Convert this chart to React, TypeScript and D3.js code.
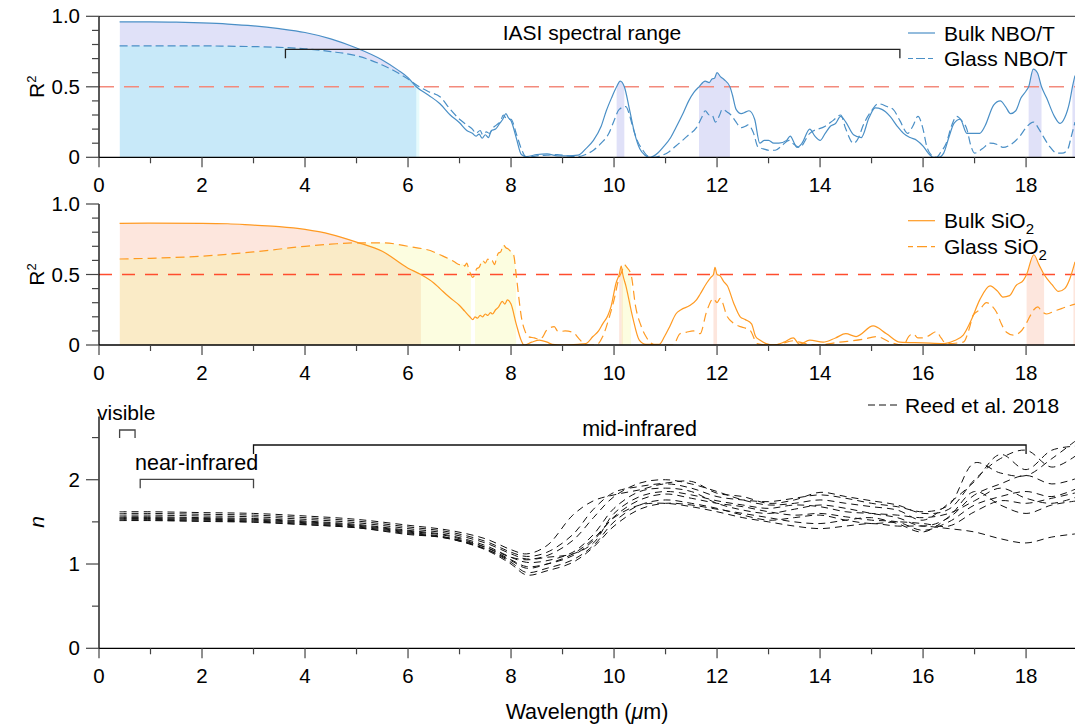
import React from 'react';
import * as d3 from 'd3';

type Pt = [number, number];

// ---------- Top panel: NBO/T R^2 ----------
const nboBulk: Pt[] = [[0.4,0.96],[1,0.96],[1.5,0.958],[2,0.953],[2.5,0.945],[3,0.932],[3.5,0.912],[4,0.885],[4.5,0.84],[5,0.775],[5.5,0.69],[5.8,0.62],[6,0.565],[6.16,0.5],[6.4,0.44],[6.62,0.38],[6.82,0.30],[7.0,0.245],[7.14,0.19],[7.25,0.17],[7.32,0.15],[7.38,0.165],[7.44,0.135],[7.5,0.16],[7.56,0.14],[7.62,0.19],[7.7,0.2],[7.78,0.24],[7.84,0.27],[7.9,0.31],[7.95,0.28],[8.0,0.26],[8.1,0.14],[8.2,0.02],[8.3,0.005],[8.5,0.02],[8.7,0.025],[8.9,0.01],[9.1,0.01],[9.3,0.015],[9.45,0.06],[9.6,0.12],[9.75,0.22],[9.85,0.33],[9.95,0.42],[10.05,0.5],[10.12,0.54],[10.2,0.5],[10.3,0.34],[10.4,0.17],[10.5,0.06],[10.6,0.015],[10.7,0.0],[10.85,0.03],[10.95,0.07],[11.1,0.14],[11.2,0.21],[11.35,0.32],[11.45,0.4],[11.55,0.46],[11.65,0.5],[11.77,0.54],[11.85,0.53],[11.9,0.555],[11.95,0.56],[12.0,0.6],[12.07,0.57],[12.14,0.55],[12.25,0.5],[12.3,0.44],[12.37,0.34],[12.47,0.31],[12.55,0.32],[12.62,0.33],[12.73,0.27],[12.83,0.1],[12.92,0.12],[13.0,0.12],[13.1,0.1],[13.2,0.1],[13.35,0.12],[13.42,0.15],[13.5,0.1],[13.55,0.07],[13.65,0.1],[13.8,0.2],[13.9,0.15],[14.0,0.12],[14.1,0.17],[14.2,0.22],[14.3,0.24],[14.4,0.29],[14.5,0.25],[14.65,0.16],[14.8,0.14],[14.95,0.28],[15.07,0.35],[15.2,0.34],[15.36,0.29],[15.5,0.22],[15.62,0.17],[15.75,0.14],[15.88,0.12],[16.0,0.08],[16.1,0.03],[16.2,0.0],[16.3,0.0],[16.4,0.03],[16.5,0.14],[16.6,0.24],[16.72,0.27],[16.85,0.17],[16.95,0.17],[17.1,0.17],[17.2,0.22],[17.37,0.37],[17.5,0.4],[17.6,0.36],[17.7,0.31],[17.8,0.33],[17.9,0.42],[18.0,0.47],[18.05,0.5],[18.14,0.625],[18.22,0.6],[18.3,0.5],[18.4,0.42],[18.55,0.29],[18.66,0.24],[18.75,0.28],[18.85,0.4],[18.9,0.5],[18.95,0.58]];

const nboGlass: Pt[] = [[0.4,0.79],[1,0.79],[1.5,0.79],[2,0.79],[2.5,0.788],[3,0.785],[3.5,0.78],[4,0.77],[4.5,0.75],[5,0.72],[5.5,0.655],[5.8,0.6],[6,0.555],[6.22,0.5],[6.4,0.465],[6.62,0.43],[6.82,0.34],[7.0,0.27],[7.14,0.23],[7.25,0.2],[7.32,0.17],[7.4,0.19],[7.45,0.16],[7.52,0.18],[7.58,0.17],[7.65,0.21],[7.72,0.23],[7.8,0.26],[7.85,0.3],[7.92,0.27],[8.0,0.27],[8.1,0.17],[8.2,0.06],[8.3,0.0],[8.5,0.01],[8.7,0.015],[8.9,0.02],[9.1,0.01],[9.3,0.005],[9.45,0.02],[9.6,0.05],[9.75,0.1],[9.9,0.17],[10.0,0.26],[10.1,0.34],[10.23,0.36],[10.3,0.3],[10.36,0.22],[10.45,0.12],[10.56,0.05],[10.65,0.01],[10.75,0.0],[10.9,0.01],[11.07,0.04],[11.2,0.08],[11.33,0.12],[11.45,0.16],[11.6,0.21],[11.7,0.28],[11.77,0.33],[11.85,0.3],[11.9,0.3],[11.97,0.25],[12.05,0.3],[12.1,0.34],[12.2,0.32],[12.27,0.3],[12.35,0.26],[12.47,0.21],[12.55,0.22],[12.6,0.23],[12.7,0.18],[12.8,0.07],[12.9,0.06],[13.0,0.05],[13.13,0.05],[13.25,0.08],[13.4,0.12],[13.5,0.09],[13.6,0.07],[13.8,0.17],[14.1,0.22],[14.25,0.26],[14.4,0.3],[14.5,0.2],[14.65,0.1],[14.75,0.14],[14.83,0.22],[15.0,0.33],[15.13,0.38],[15.3,0.36],[15.42,0.34],[15.55,0.26],[15.7,0.17],[15.8,0.22],[15.9,0.29],[16.0,0.2],[16.07,0.08],[16.18,0.01],[16.26,0.0],[16.35,0.04],[16.45,0.1],[16.55,0.22],[16.65,0.29],[16.75,0.26],[16.85,0.2],[16.93,0.08],[17.0,0.03],[17.15,0.06],[17.3,0.1],[17.45,0.09],[17.55,0.07],[17.7,0.09],[17.88,0.15],[18.0,0.21],[18.14,0.25],[18.25,0.2],[18.33,0.15],[18.45,0.08],[18.6,0.03],[18.7,0.03],[18.8,0.05],[18.88,0.15],[18.95,0.25]];

const nboBulkBands: Pt[] = [[0.4,6.16],[10.05,10.2],[11.65,12.25],[18.05,18.3],[18.9,18.95]];
const nboGlassBands: Pt[] = [[0.4,6.22]];

// ---------- Middle panel: SiO2 R^2 ----------
const sioBulk: Pt[] = [[0.4,0.863],[1,0.864],[2,0.863],[2.5,0.86],[3,0.85],[3.5,0.84],[4,0.82],[4.5,0.785],[5,0.73],[5.5,0.665],[6,0.545],[6.25,0.5],[6.5,0.44],[6.62,0.40],[6.8,0.34],[7.0,0.28],[7.1,0.24],[7.2,0.2],[7.26,0.18],[7.3,0.2],[7.35,0.19],[7.4,0.21],[7.45,0.2],[7.5,0.22],[7.55,0.21],[7.6,0.23],[7.64,0.22],[7.7,0.25],[7.76,0.27],[7.83,0.31],[7.88,0.29],[7.93,0.32],[8.0,0.29],[8.1,0.15],[8.2,0.03],[8.25,0.0],[8.4,0.02],[8.55,0.035],[8.7,0.02],[8.8,0.005],[9.0,0.0],[9.3,0.005],[9.45,0.01],[9.59,0.06],[9.7,0.1],[9.78,0.15],[9.88,0.21],[9.94,0.27],[10.04,0.44],[10.1,0.5],[10.14,0.56],[10.17,0.5],[10.23,0.42],[10.36,0.2],[10.49,0.035],[10.62,0.005],[10.88,0.005],[10.98,0.06],[11.08,0.13],[11.2,0.22],[11.3,0.25],[11.47,0.28],[11.6,0.32],[11.67,0.36],[11.8,0.44],[11.88,0.48],[11.93,0.5],[11.96,0.55],[12.0,0.5],[12.06,0.49],[12.13,0.45],[12.2,0.42],[12.32,0.3],[12.45,0.2],[12.55,0.18],[12.67,0.15],[12.75,0.06],[12.83,0.035],[12.95,0.01],[13.1,0.0],[13.3,0.02],[13.48,0.05],[13.6,0.005],[13.8,0.035],[14.06,0.02],[14.3,0.05],[14.5,0.08],[14.7,0.06],[15.03,0.135],[15.29,0.08],[15.55,0.02],[16.0,0.015],[16.4,0.01],[16.6,0.03],[16.78,0.07],[16.94,0.18],[17.1,0.32],[17.3,0.42],[17.45,0.38],[17.55,0.34],[17.68,0.35],[17.8,0.42],[17.95,0.46],[18.01,0.5],[18.15,0.64],[18.25,0.57],[18.35,0.5],[18.5,0.43],[18.63,0.38],[18.75,0.4],[18.85,0.47],[18.92,0.55],[18.95,0.59]];

const sioGlass: Pt[] = [[0.4,0.61],[1,0.615],[2,0.63],[3,0.66],[4,0.70],[4.5,0.715],[5,0.725],[5.5,0.725],[6,0.70],[6.5,0.66],[6.62,0.64],[6.8,0.61],[6.9,0.59],[7.0,0.57],[7.06,0.58],[7.1,0.56],[7.14,0.58],[7.18,0.54],[7.22,0.5],[7.25,0.48],[7.3,0.5],[7.33,0.54],[7.38,0.55],[7.45,0.6],[7.5,0.58],[7.55,0.61],[7.59,0.59],[7.63,0.6],[7.68,0.57],[7.72,0.62],[7.75,0.65],[7.8,0.66],[7.85,0.71],[7.9,0.69],[7.95,0.68],[8.0,0.66],[8.05,0.64],[8.1,0.5],[8.15,0.34],[8.2,0.2],[8.27,0.1],[8.33,0.06],[8.45,0.05],[8.55,0.04],[8.62,0.06],[8.68,0.1],[8.75,0.12],[8.84,0.13],[8.9,0.1],[8.94,0.095],[9.05,0.1],[9.2,0.09],[9.33,0.04],[9.46,0.0],[9.65,0.0],[9.78,0.06],[9.91,0.2],[10.0,0.32],[10.1,0.48],[10.15,0.52],[10.2,0.57],[10.25,0.55],[10.33,0.5],[10.42,0.27],[10.52,0.14],[10.62,0.06],[10.8,0.0],[11.15,0.0],[11.28,0.08],[11.4,0.09],[11.54,0.1],[11.67,0.08],[11.8,0.24],[11.93,0.33],[12.0,0.3],[12.06,0.33],[12.2,0.2],[12.3,0.16],[12.45,0.13],[12.55,0.12],[12.65,0.1],[12.78,0.01],[13.0,0.0],[13.2,0.005],[13.48,0.03],[13.6,0.02],[13.93,0.0],[14.38,0.02],[14.83,0.04],[15.1,0.06],[15.36,0.02],[15.62,0.0],[15.72,0.06],[15.81,0.08],[15.9,0.05],[16.0,0.05],[16.13,0.07],[16.26,0.095],[16.35,0.05],[16.45,0.01],[16.78,0.02],[16.9,0.12],[16.97,0.21],[17.1,0.25],[17.23,0.3],[17.33,0.28],[17.43,0.23],[17.52,0.15],[17.62,0.09],[17.75,0.07],[17.88,0.09],[18.0,0.15],[18.07,0.2],[18.15,0.25],[18.23,0.27],[18.3,0.24],[18.4,0.22],[18.55,0.24],[18.7,0.26],[18.86,0.28],[18.95,0.29]];

const sioBulkBands: Pt[] = [[0.4,6.25],[10.1,10.17],[11.93,12.0],[18.01,18.35],[18.92,18.95]];
const sioGlassBands: Pt[] = [[0.4,7.22],[7.3,8.1],[10.15,10.33]];

// ---------- Bottom panel: refractive index n (Reed et al. 2018) ----------
const reedWavelength = [0.4,1,2,3,4,5,6,6.8,7.5,8,8.3,8.7,9.2,9.6,10,10.5,11,11.5,12,12.5,13,13.5,14,14.5,15,15.5,16,16.5,17,17.5,18,18.5,19];
const reedN: number[][] = [
  [1.62,1.62,1.61,1.60,1.57,1.53,1.46,1.40,1.30,1.17,1.12,1.22,1.58,1.75,1.82,1.88,1.95,1.9,1.8,1.76,1.74,1.78,1.82,1.78,1.72,1.68,1.62,1.7,2.2,2.08,2.05,2.25,2.48],
  [1.58,1.58,1.57,1.56,1.53,1.49,1.42,1.36,1.25,1.12,1.06,1.1,1.28,1.55,1.8,1.96,2.0,1.95,1.86,1.76,1.7,1.72,1.76,1.72,1.68,1.64,1.52,1.72,1.98,2.3,2.12,2.35,2.4],
  [1.56,1.56,1.55,1.54,1.51,1.47,1.40,1.34,1.22,1.08,1.02,1.04,1.14,1.35,1.66,1.86,1.9,1.86,1.72,1.64,1.6,1.65,1.7,1.66,1.6,1.55,1.45,1.55,1.82,1.95,2.05,1.95,2.02],
  [1.55,1.55,1.54,1.53,1.50,1.46,1.39,1.33,1.2,1.05,0.97,1.0,1.1,1.28,1.56,1.76,1.83,1.78,1.72,1.68,1.62,1.58,1.6,1.56,1.52,1.5,1.4,1.5,1.7,1.8,1.86,1.8,1.9],
  [1.54,1.54,1.53,1.52,1.49,1.45,1.38,1.31,1.18,1.02,0.9,0.95,1.05,1.22,1.5,1.7,1.76,1.72,1.66,1.58,1.52,1.55,1.58,1.52,1.48,1.5,1.48,1.45,1.62,1.75,1.72,1.78,1.85],
  [1.53,1.53,1.52,1.51,1.48,1.44,1.37,1.30,1.17,1.0,0.87,0.92,1.02,1.2,1.45,1.65,1.72,1.7,1.65,1.6,1.55,1.5,1.48,1.52,1.55,1.48,1.38,1.56,1.86,1.7,1.6,1.7,1.75],
  [1.52,1.52,1.51,1.50,1.47,1.43,1.36,1.30,1.18,1.04,0.95,1.0,1.12,1.3,1.55,1.7,1.72,1.68,1.62,1.55,1.5,1.45,1.42,1.45,1.48,1.45,1.45,1.42,1.38,1.3,1.25,1.32,1.36],
  [1.515,1.515,1.505,1.495,1.465,1.43,1.35,1.31,1.2,1.08,1.05,1.08,1.12,1.25,1.6,1.8,1.86,1.82,1.75,1.7,1.66,1.7,1.68,1.62,1.6,1.58,1.55,1.6,1.75,1.9,1.78,1.72,1.8],
  [1.6,1.6,1.59,1.58,1.55,1.51,1.44,1.38,1.27,1.14,1.09,1.14,1.35,1.65,1.85,1.92,1.96,1.98,1.84,1.8,1.72,1.76,1.85,1.8,1.75,1.7,1.6,1.65,2.0,2.25,2.35,2.15,2.3],
];

// ---------- ticks & annotations ----------
const xMajor = [0,2,4,6,8,10,12,14,16,18];
const xMinor = [1,3,5,7,9,11,13,15,17];
const r2Major = [0, 0.5, 1];
const r2MajorLabels = ['0', '0.5', '1.0'];
const r2Minor = [0.1,0.2,0.3,0.4,0.6,0.7,0.8,0.9];
const nMajor = [0, 1, 2];
const nMinor = [0.5, 1.5, 2.5];
const iasiRange: Pt = [3.62, 15.55];
const visibleRange: Pt = [0.4, 0.7];
const nearIrRange: Pt = [0.8, 3.0];
const midIrRange: Pt = [3.0, 18.0];

const W = 1075, H = 724;
const FONT = "'Liberation Sans', Arial, Helvetica, sans-serif";
const BLUE = '#4a8fc6';
const ORANGE = '#ff9a22';

const x = d3.scaleLinear().domain([0, 18.95]).range([99, 1075]);
const yTop = d3.scaleLinear().domain([0, 1]).range([157.3, 16.3]);
const yMid = d3.scaleLinear().domain([0, 1]).range([345, 204]);
const yBot = d3.scaleLinear().domain([0, 2.75]).range([648.3, 416.5]);

function intersect(a: Pt[], b: Pt[]): Pt[] {
  const out: Pt[] = [];
  a.forEach(([a0, a1]) => b.forEach(([b0, b1]) => {
    const lo = Math.max(a0, b0), hi = Math.min(a1, b1);
    if (hi > lo) out.push([lo, hi]);
  }));
  return out;
}

function XAxis({ y0, labels }: { y0: number; labels: boolean }) {
  return (
    <g>
      <line x1={x(0)} x2={W} y1={y0} y2={y0} stroke="#000" strokeWidth={1.3} />
      {xMajor.map(v => <line key={'M' + v} x1={x(v)} x2={x(v)} y1={y0} y2={y0 + 10} stroke="#444" strokeWidth={1.2} />)}
      {xMinor.map(v => <line key={'m' + v} x1={x(v)} x2={x(v)} y1={y0} y2={y0 + 6} stroke="#444" strokeWidth={1.2} />)}
      {labels && xMajor.map(v => (
        <text key={'t' + v} x={x(v)} y={y0 + 35} textAnchor="middle" fontSize={20.5} fontFamily={FONT}>{v}</text>
      ))}
    </g>
  );
}

function YAxis({ y, major, labels, minor, top }: { y: d3.ScaleLinear<number, number>; major: number[]; labels: string[]; minor: number[]; top: number }) {
  return (
    <g>
      <line x1={x(0)} x2={x(0)} y1={y(0)} y2={y(top)} stroke="#000" strokeWidth={1.3} />
      {major.map((v, i) => (
        <g key={'M' + v}>
          <line x1={x(0) - 13} x2={x(0)} y1={y(v)} y2={y(v)} stroke="#444" strokeWidth={1.2} />
          <text x={80} y={y(v) + 7} textAnchor="end" fontSize={20.5} fontFamily={FONT}>{labels[i]}</text>
        </g>
      ))}
      {minor.map(v => <line key={'m' + v} x1={x(0) - 7} x2={x(0)} y1={y(v)} y2={y(v)} stroke="#444" strokeWidth={1.2} />)}
    </g>
  );
}

function R2Panel(props: {
  id: string; y: d3.ScaleLinear<number, number>; bulk: Pt[]; glass: Pt[];
  bulkBands: Pt[]; glassBands: Pt[]; color: string; bulkFill: string; glassFill: string; bothFill: string;
  refColor: string; refDash: string; glassDash: string;
}) {
  const { id, y, bulk, glass, bulkBands, glassBands, color } = props;
  const area = d3.area<Pt>().x(d => x(d[0])).y0(y(0)).y1(d => y(d[1])).curve(d3.curveMonotoneX);
  const line = d3.line<Pt>().x(d => x(d[0])).y(d => y(d[1])).curve(d3.curveMonotoneX);
  const both = intersect(bulkBands, glassBands);
  const rects = (bands: Pt[]) => bands.map(([a, b], i) => (
    <rect key={i} x={x(a)} width={x(b) - x(a)} y={y(1.05)} height={y(0) - y(1.05)} />
  ));
  return (
    <g>
      <defs>
        <clipPath id={id + 'bulkB'}>{rects(bulkBands)}</clipPath>
        <clipPath id={id + 'glassB'}>{rects(glassBands)}</clipPath>
        <clipPath id={id + 'bothB'}>{rects(both)}</clipPath>
        <clipPath id={id + 'glassArea'}><path d={area(glass) || ''} /></clipPath>
        <clipPath id={id + 'plot'}><rect x={x(0)} y={y(1.05)} width={W - x(0)} height={y(0) - y(1.05)} /></clipPath>
      </defs>
      <path d={area(bulk) || ''} fill={props.bulkFill} clipPath={`url(#${id}bulkB)`} />
      <path d={area(glass) || ''} fill={props.glassFill} clipPath={`url(#${id}glassB)`} />
      <g clipPath={`url(#${id}bothB)`}>
        <g clipPath={`url(#${id}glassArea)`}>
          <path d={area(bulk) || ''} fill={props.bothFill} />
        </g>
      </g>
      <line x1={x(0)} x2={W} y1={y(0.5)} y2={y(0.5)} stroke={props.refColor} strokeWidth={1.4} strokeDasharray={props.refDash} />
      <g clipPath={`url(#${id}plot)`}>
        <path d={line(glass) || ''} fill="none" stroke={color} strokeWidth={1.2} strokeDasharray={props.glassDash} />
        <path d={line(bulk) || ''} fill="none" stroke={color} strokeWidth={1.2} />
      </g>
    </g>
  );
}

function Bracket({ range, y0, drop, color }: { range: Pt; y0: number; drop: number; color: string }) {
  const x0 = x(range[0]), x1 = x(range[1]);
  return <path d={`M${x0},${y0 + drop}V${y0}H${x1}V${y0 + drop}`} fill="none" stroke={color} strokeWidth={1.3} />;
}

export default function App() {
  const reedLine = d3.line<number>().x((_, i) => x(reedWavelength[i])).y(d => yBot(d)).curve(d3.curveCatmullRom);
  return (
    <svg width={W} height={H} style={{ position: 'absolute', left: 0, top: 0, background: '#fff' }} fontFamily={FONT}>
      <rect width={W} height={H} fill="#fff" />
      {/* ---------- top panel ---------- */}
      <R2Panel id="top" y={yTop} bulk={nboBulk} glass={nboGlass} bulkBands={nboBulkBands} glassBands={nboGlassBands}
        color={BLUE} bulkFill="#e0e1f8" glassFill="#e6fbfc" bothFill="#c8e9f9"
        refColor="#f38a7c" refDash="15,10" glassDash="8,4" />
      <line x1={x(0)} x2={W} y1={yTop(1)} y2={yTop(1)} stroke="#555" strokeWidth={1.2} />
      <XAxis y0={yTop(0)} labels />
      <YAxis y={yTop} major={r2Major} labels={r2MajorLabels} minor={r2Minor} top={1} />
      <text transform={`translate(44,${yTop(0.5)}) rotate(-90)`} textAnchor="middle" fontSize={21}>R<tspan dy={-8} fontSize={13}>2</tspan></text>
      <Bracket range={iasiRange} y0={49.3} drop={9} color="#222" />
      <text x={592} y={40} textAnchor="middle" fontSize={21}>IASI spectral range</text>
      <line x1={908} x2={935} y1={33} y2={33} stroke={BLUE} strokeWidth={1.2} />
      <text x={944} y={40.5} fontSize={21}>Bulk NBO/T</text>
      <line x1={908} x2={935} y1={58.5} y2={58.5} stroke={BLUE} strokeWidth={1.2} strokeDasharray="5,3,9,3" />
      <text x={944} y={65.5} fontSize={21}>Glass NBO/T</text>

      {/* ---------- middle panel ---------- */}
      <R2Panel id="mid" y={yMid} bulk={sioBulk} glass={sioGlass} bulkBands={sioBulkBands} glassBands={sioGlassBands}
        color={ORANGE} bulkFill="#fde6dd" glassFill="#fcfde0" bothFill="#faebc7"
        refColor="#ff4d2e" refDash="13,10" glassDash="9,5" />
      <XAxis y0={yMid(0)} labels />
      <YAxis y={yMid} major={r2Major} labels={r2MajorLabels} minor={r2Minor} top={1} />
      <text transform={`translate(44,${yMid(0.5)}) rotate(-90)`} textAnchor="middle" fontSize={21}>R<tspan dy={-8} fontSize={13}>2</tspan></text>
      <line x1={908} x2={935} y1={220.7} y2={220.7} stroke={ORANGE} strokeWidth={1.2} />
      <text x={944} y={228.3} fontSize={21}>Bulk SiO<tspan dy={6} fontSize={15}>2</tspan></text>
      <line x1={908} x2={935} y1={246.7} y2={246.7} stroke={ORANGE} strokeWidth={1.2} strokeDasharray="5,4,10,4" />
      <text x={944} y={254.3} fontSize={21}>Glass SiO<tspan dy={6} fontSize={15}>2</tspan></text>

      {/* ---------- bottom panel ---------- */}
      <g>
        {reedN.map((vals, i) => (
          <path key={i} d={reedLine(vals) || ''} fill="none" stroke="#111" strokeWidth={1} strokeDasharray="7,5" />
        ))}
      </g>
      <rect x={W} y={400} width={20} height={260} fill="#fff" />
      <XAxis y0={yBot(0)} labels />
      <YAxis y={yBot} major={nMajor} labels={nMajor.map(String)} minor={nMinor} top={2.75} />
      <text transform={`translate(44,${yBot(1.5)}) rotate(-90)`} textAnchor="middle" fontSize={21} fontStyle="italic">n</text>
      <Bracket range={visibleRange} y0={430} drop={8} color="#444" />
      <text x={97} y={419.5} fontSize={21}>visible</text>
      <Bracket range={nearIrRange} y0={479.3} drop={9} color="#444" />
      <text x={135} y={470} fontSize={21.5}>near-infrared</text>
      <Bracket range={midIrRange} y0={445} drop={9} color="#111" />
      <text x={639.5} y={436} textAnchor="middle" fontSize={21.5}>mid-infrared</text>
      <line x1={868} x2={897} y1={405} y2={405} stroke="#111" strokeWidth={1} strokeDasharray="7,4" />
      <text x={905} y={413} fontSize={21}>Reed et al. 2018</text>
      <text x={587} y={719} textAnchor="middle" fontSize={21.5}>Wavelength (<tspan fontStyle="italic">μ</tspan>m)</text>
    </svg>
  );
}
